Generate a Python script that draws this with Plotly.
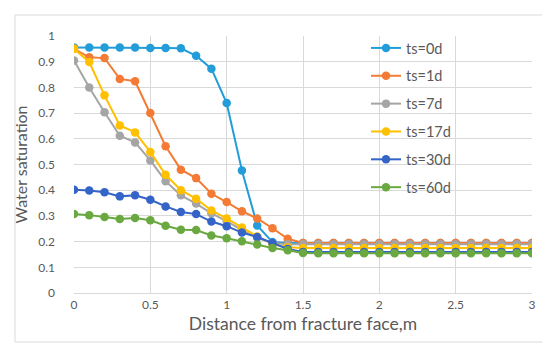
import plotly.graph_objects as go

distance = [0.0, 0.1, 0.2, 0.3, 0.4, 0.5, 0.6, 0.7, 0.8, 0.9, 1.0,
            1.1, 1.2, 1.3, 1.4, 1.5, 1.6, 1.7, 1.8, 1.9, 2.0,
            2.1, 2.2, 2.3, 2.4, 2.5, 2.6, 2.7, 2.8, 2.9, 3.0]

ts_0d = [0.955, 0.955, 0.955, 0.955, 0.955, 0.953, 0.953, 0.952, 0.923, 0.873, 0.739,
         0.477, 0.263, 0.198, 0.195, 0.195, 0.195, 0.195, 0.195, 0.195, 0.195,
         0.195, 0.195, 0.195, 0.195, 0.195, 0.195, 0.195, 0.195, 0.195, 0.195]
ts_1d = [0.950, 0.917, 0.914, 0.833, 0.824, 0.700, 0.571, 0.480, 0.447, 0.386, 0.354,
         0.318, 0.290, 0.252, 0.211, 0.195, 0.195, 0.195, 0.195, 0.195, 0.195,
         0.195, 0.195, 0.195, 0.195, 0.195, 0.195, 0.195, 0.195, 0.195, 0.195]
ts_7d = [0.905, 0.800, 0.703, 0.612, 0.586, 0.516, 0.435, 0.380, 0.348, 0.310, 0.280,
         0.245, 0.215, 0.195, 0.190, 0.190, 0.190, 0.190, 0.190, 0.190, 0.190,
         0.190, 0.190, 0.190, 0.190, 0.190, 0.190, 0.190, 0.190, 0.190, 0.190]
ts_17d = [0.950, 0.899, 0.769, 0.652, 0.625, 0.549, 0.460, 0.400, 0.367, 0.321, 0.290,
          0.255, 0.220, 0.190, 0.178, 0.175, 0.175, 0.175, 0.175, 0.175, 0.175,
          0.175, 0.175, 0.175, 0.175, 0.175, 0.175, 0.175, 0.175, 0.175, 0.175]
ts_30d = [0.402, 0.399, 0.392, 0.376, 0.380, 0.363, 0.337, 0.315, 0.307, 0.278, 0.260,
          0.235, 0.218, 0.195, 0.171, 0.160, 0.160, 0.160, 0.160, 0.160, 0.160,
          0.160, 0.160, 0.160, 0.160, 0.160, 0.160, 0.160, 0.160, 0.160, 0.160]
ts_60d = [0.307, 0.303, 0.296, 0.288, 0.292, 0.283, 0.262, 0.246, 0.245, 0.224, 0.213,
          0.201, 0.189, 0.175, 0.166, 0.156, 0.155, 0.155, 0.155, 0.155, 0.155,
          0.155, 0.155, 0.155, 0.155, 0.155, 0.155, 0.155, 0.155, 0.155, 0.155]

series_names = ["ts=0d", "ts=1d", "ts=7d", "ts=17d", "ts=30d", "ts=60d"]
series_values = [ts_0d, ts_1d, ts_7d, ts_17d, ts_30d, ts_60d]
colors = ["#229dd9", "#f47b35", "#a5a5a5", "#ffc000", "#3564c8", "#6aa840"]

FONT = "Lato"
fig = go.Figure()
for name, vals, col in zip(series_names, series_values, colors):
    fig.add_trace(go.Scatter(
        x=distance, y=vals, name=name, mode="lines+markers",
        legendgroup=name,
        line=dict(color=col, width=2),
        marker=dict(color=col, size=8.5),
    ))

L, R, T, B = 66, 26, 28, 58
W, H = 550, 343
pw, ph = W - L - R, H - T - B

fig.update_layout(
    width=W, height=H,
    margin=dict(l=L, r=R, t=T, b=B),
    paper_bgcolor="white", plot_bgcolor="white",
    font=dict(family=FONT, color="#595959"),
    showlegend=True,
    legend=dict(
        x=(358 - L) / pw, y=(285 - 24) / ph, xanchor="left", yanchor="top",
        bgcolor="rgba(0,0,0,0)", font=dict(size=14.5, color="#595959", family=FONT),
        tracegroupgap=6, itemwidth=30, maxheight=0.95,
    ),
    shapes=[dict(
        type="rect", xref="paper", yref="paper",
        x0=(7 - L) / pw, x1=(544 - L) / pw,
        y0=(285 - 334) / ph, y1=(285 - 7) / ph,
        line=dict(color="#d9d9d9", width=1), fillcolor="rgba(0,0,0,0)",
        layer="below",
    )],
)
fig.update_xaxes(
    range=[0, 3], dtick=0.5, tick0=0,
    showgrid=True, gridcolor="#d9d9d9", gridwidth=1,
    showline=True, linecolor="#d9d9d9", zeroline=False,
    ticks="", ticklabelstandoff=1,
    tickfont=dict(size=12, color="#595959", family=FONT),
    title=dict(text="Distance from fracture face,m", font=dict(size=17.5, color="#595959", family=FONT), standoff=6),
)
fig.update_yaxes(
    range=[0, 1], dtick=0.1, tick0=0,
    showgrid=True, gridcolor="#d9d9d9", gridwidth=1,
    showline=False, zeroline=False,
    ticks="", ticklabelstandoff=18,
    tickfont=dict(size=12, color="#595959", family=FONT),
    title=dict(text="Water saturation", font=dict(size=16, color="#595959", family=FONT), standoff=6),
)

fig.write_html("out.html")
